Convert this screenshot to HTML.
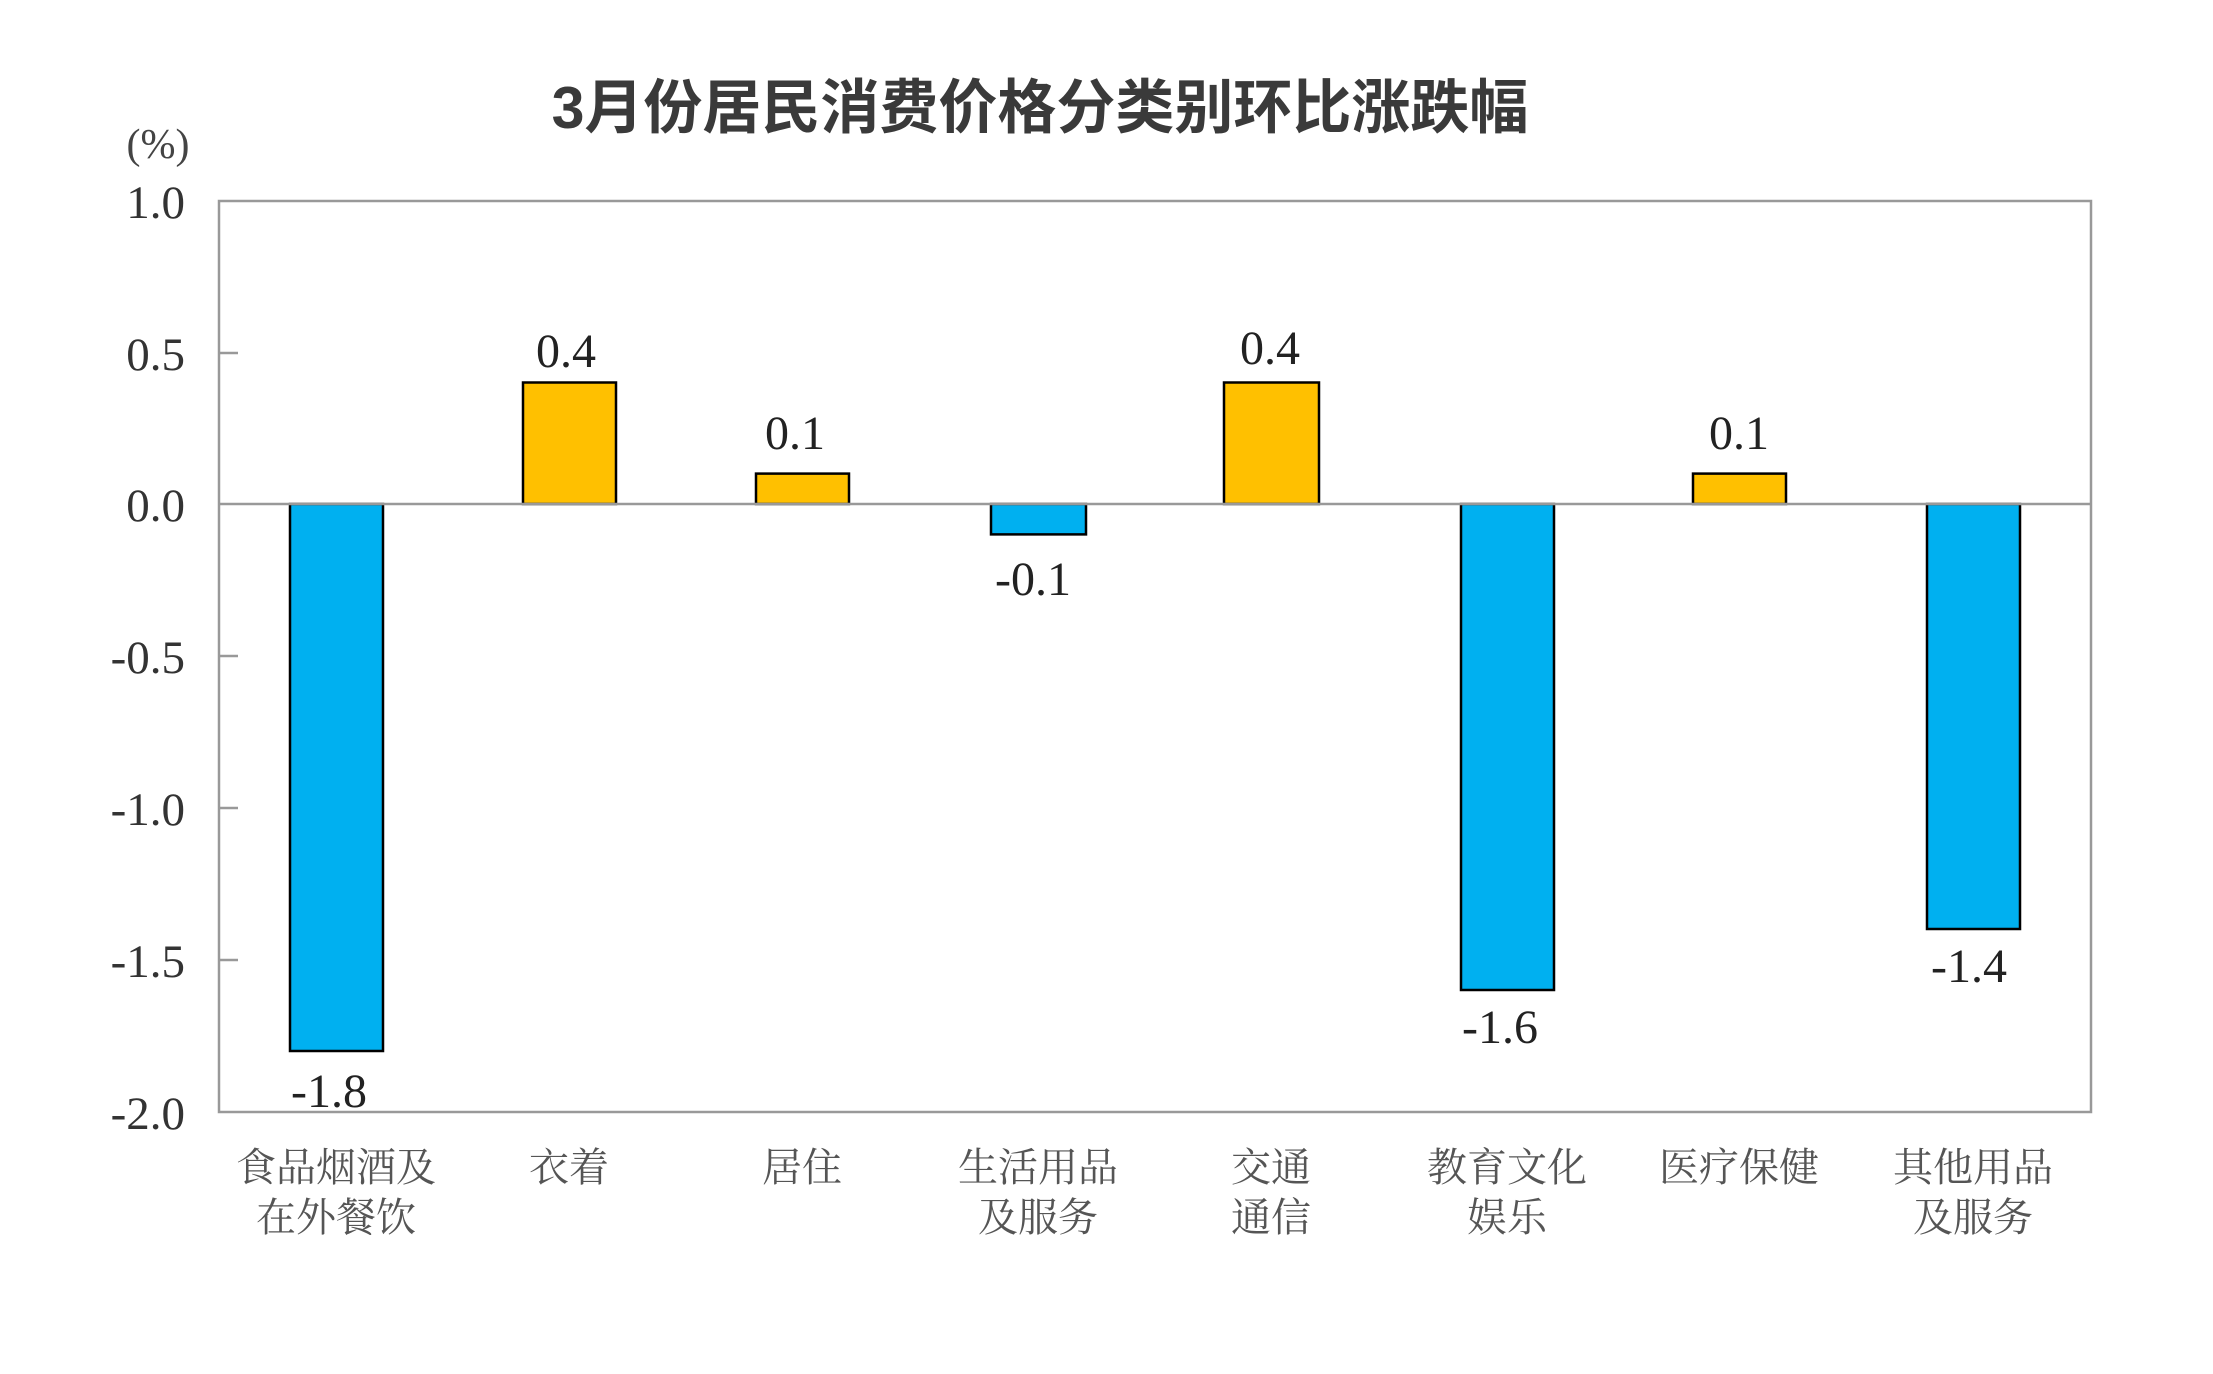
<!DOCTYPE html>
<html><head><meta charset="utf-8"><style>body{margin:0;background:#fff}</style></head><body>
<svg width="2213" height="1369" xmlns="http://www.w3.org/2000/svg">
<rect width="2213" height="1369" fill="#fff"/>
<text x="1040" y="128" font-family="'Liberation Sans','Noto Sans CJK SC',sans-serif" font-size="59" font-weight="bold" fill="#3a3a3a" text-anchor="middle">3月份居民消费价格分类别环比涨跌幅</text>
<text x="158" y="158" font-family="'Liberation Serif',serif" font-size="42" fill="#444" text-anchor="middle">(%)</text>
<g font-family="'Liberation Serif',serif" font-size="47" fill="#333" text-anchor="end">
<text x="185" y="218">1.0</text><text x="185" y="370">0.5</text><text x="185" y="521">0.0</text>
<text x="185" y="673">-0.5</text><text x="185" y="825">-1.0</text><text x="185" y="977">-1.5</text><text x="185" y="1129">-2.0</text>
</g>
<rect x="219" y="201" width="1872" height="911" fill="none" stroke="#999" stroke-width="2.5"/>
<g stroke="#999" stroke-width="2.5">
<line x1="219" y1="353" x2="238" y2="353"/><line x1="219" y1="656" x2="238" y2="656"/>
<line x1="219" y1="808" x2="238" y2="808"/><line x1="219" y1="960" x2="238" y2="960"/>
</g>
<g stroke="#000" stroke-width="2.5">
<rect x="290" y="504" width="93" height="547" fill="#00b0f0"/>
<rect x="523" y="382.5" width="93" height="121.5" fill="#ffc000"/>
<rect x="756" y="473.6" width="93" height="30.4" fill="#ffc000"/>
<rect x="991" y="504" width="95" height="30.4" fill="#00b0f0"/>
<rect x="1224" y="382.5" width="95" height="121.5" fill="#ffc000"/>
<rect x="1461" y="504" width="93" height="486" fill="#00b0f0"/>
<rect x="1693" y="473.6" width="93" height="30.4" fill="#ffc000"/>
<rect x="1927" y="504" width="93" height="425" fill="#00b0f0"/>
</g>
<line x1="219" y1="504" x2="2091" y2="504" stroke="#999" stroke-width="2.5"/>
<g font-family="'Liberation Serif',serif" font-size="48" fill="#222" text-anchor="middle">
<text x="329" y="1107">-1.8</text><text x="566" y="367">0.4</text><text x="795" y="449">0.1</text>
<text x="1033" y="595">-0.1</text><text x="1270" y="364">0.4</text><text x="1500" y="1043">-1.6</text>
<text x="1739" y="449">0.1</text><text x="1969" y="982">-1.4</text>
</g>
<g font-family="'Liberation Serif','Noto Serif CJK SC',serif" font-size="40" fill="#555" text-anchor="middle">
<text x="336" y="1181">食品烟酒及</text><text x="336" y="1231">在外餐饮</text>
<text x="569" y="1181">衣着</text>
<text x="802" y="1181">居住</text>
<text x="1038" y="1181">生活用品</text><text x="1038" y="1231">及服务</text>
<text x="1271" y="1181">交通</text><text x="1271" y="1231">通信</text>
<text x="1507" y="1181">教育文化</text><text x="1507" y="1231">娱乐</text>
<text x="1739" y="1181">医疗保健</text>
<text x="1973" y="1181">其他用品</text><text x="1973" y="1231">及服务</text>
</g>
</svg>
</body></html>
